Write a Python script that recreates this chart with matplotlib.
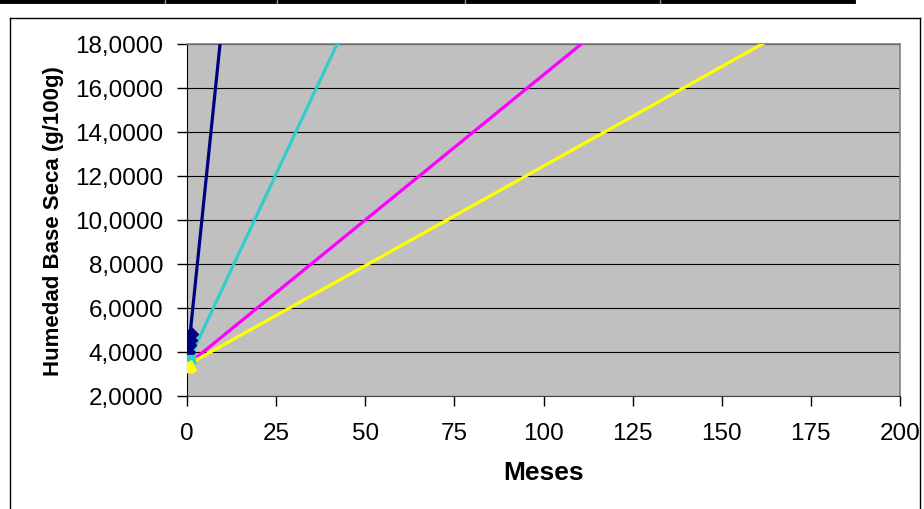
import numpy as np
import matplotlib
matplotlib.use("Agg")
from matplotlib import pyplot as plt
from matplotlib.lines import Line2D
from matplotlib.ticker import FuncFormatter

plt.rcParams['font.family'] = ['Liberation Sans', 'DejaVu Sans']

# Measured points (first month) for each sample
months_navy = [0, 0.25, 0.5, 0.75, 1.0]
hum_navy = [3.4, 4.0, 4.3, 4.55, 4.8]
months_cyan = [0, 0.25, 0.5, 0.75, 1.0]
hum_cyan = [3.3, 3.4, 3.5, 3.6, 3.7]
months_yellow = [0, 0.25, 0.5, 0.75, 1.0]
hum_yellow = [3.3, 3.32, 3.35, 3.38, 3.4]

# Linear trend lines: intercept and slope (g/100g per month)
trend_names = ["navy", "cyan", "magenta", "yellow"]
trend_intercept = [3.45, 3.45, 3.4, 3.4]
trend_slope = [1.57, 0.3456, 0.132, 0.0905]
trend_colors = ["#000080", "#33CCCC", "#FF00FF", "#FFFF00"]

x_ticks = [0, 25, 50, 75, 100, 125, 150, 175, 200]
y_ticks = [2, 4, 6, 8, 10, 12, 14, 16, 18]

fig = plt.figure(figsize=(9.24, 5.10), dpi=100)
ax = fig.add_axes([187 / 924, 1 - 397 / 510, 713 / 924, 352 / 510])
ax.set_facecolor("#C0C0C0")

xs = np.array([0, 200])
for b, m, c in zip(trend_intercept, trend_slope, trend_colors):
    ax.plot(xs, b + m * xs, color=c, lw=2.3, zorder=3, solid_capstyle="butt")

ax.plot(months_navy, hum_navy, color="#000080", lw=2.3, marker="D", ms=7, zorder=4)
ax.plot(months_cyan, hum_cyan, color="#33CCCC", lw=2.3, marker="s", ms=6, zorder=5)
ax.plot(months_yellow, hum_yellow, color="#FFFF00", lw=2.3, marker="^", ms=7, zorder=6)

ax.set_xlim(0, 200)
ax.set_ylim(2, 18)
ax.set_xticks(x_ticks)
ax.set_yticks(y_ticks)
ax.yaxis.set_major_formatter(FuncFormatter(lambda v, p: f"{v:.4f}".replace(".", ",")))
ax.grid(axis="y", color="black", lw=0.8, zorder=1)
ax.set_axisbelow(True)
ax.tick_params(axis="both", direction="out", length=7, width=1, labelsize=17.5, color="black")
ax.tick_params(axis="y", pad=10)
ax.tick_params(axis="x", pad=12)

for side in ["top", "right"]:
    ax.spines[side].set_color("#808080")
    ax.spines[side].set_linewidth(1.2)
ax.spines["left"].set_color("black")
ax.spines["bottom"].set_color("#404040")

ax.set_xlabel("Meses", fontsize=19, fontweight="bold", labelpad=11)
ax.set_ylabel("Humedad Base Seca (g/100g)", fontsize=16, fontweight="bold", labelpad=8)

# chart frame
W, H = 924, 510
def fline(x0, y0, x1, y1, **kw):
    fig.add_artist(Line2D([x0 / W, x1 / W], [1 - y0 / H, 1 - y1 / H],
                          transform=fig.transFigure, **kw))

fline(10, 19, 920, 19, color="black", lw=1)
fline(10, 19, 10, 510, color="black", lw=1)
fline(920, 19, 920, 510, color="black", lw=1)

# table border above the chart
fline(0, 2, 853, 2, color="black", lw=3.5)
for xp in [165, 277, 465, 660]:
    fline(xp, 0.5, xp, 4, color="#909090", lw=1)

fig.savefig("out.png", dpi=100)
